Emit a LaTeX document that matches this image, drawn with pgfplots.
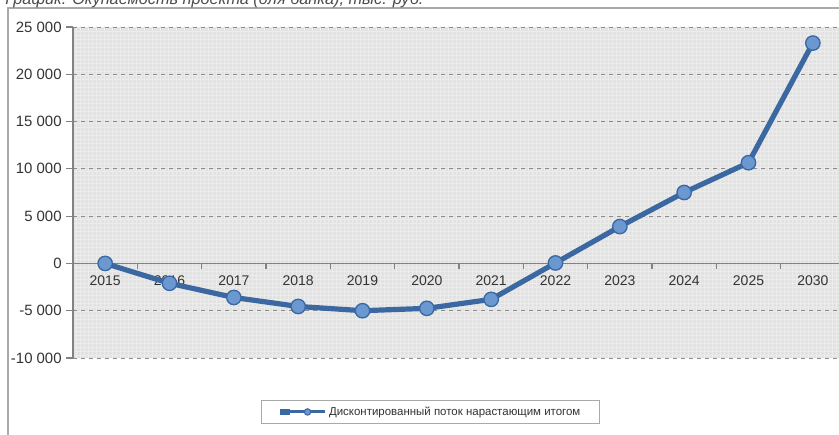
\documentclass[border=0pt]{standalone}
\usepackage{fontspec}
\setmainfont{Liberation Sans}
\usepackage{pgfplots}
\pgfplotsset{compat=1.18}
\usetikzlibrary{patterns}

\definecolor{bgfill}{RGB}{226,226,226}
\definecolor{bgline}{RGB}{236,236,236}
\definecolor{lineblue}{RGB}{60,104,162}
\definecolor{markblue}{RGB}{108,152,210}
\definecolor{framegray}{RGB}{170,170,170}
\definecolor{gridgray}{RGB}{140,140,140}
\definecolor{axisgray}{RGB}{130,130,130}

\begin{document}
\begin{tikzpicture}[x=0.75pt,y=0.75pt]
% chart frame (top and left edges are visible, the rest is cut off)
\draw[framegray, line width=1.1pt] (8,-10) -- (8,427) -- (850,427);
% title, partly cut at the top of the picture
\node[anchor=base west, inner sep=0pt, font=\itshape\fontsize{12.2}{13}\selectfont, text=black!70]
  at (5,430.5) {График. Окупаемость проекта (для банка), тыс. руб.};

\begin{axis}[
  at={(54.75pt,57.75pt)}, anchor=south west,
  scale only axis,
  width=579pt, height=248.25pt,
  xmin=-0.5, xmax=11.5,
  ymin=-10000, ymax=25000,
  axis y line=left,
  axis x line=middle,
  axis line style={-, axisgray, line width=0.8pt},
  axis background/.style={fill=bgfill, postaction={pattern=grid, pattern color=bgline}},
  xtick={0,...,11},
  xticklabels={2015,2016,2017,2018,2019,2020,2021,2022,2023,2024,2025,2030},
  major x tick style={draw=none},
  minor xtick={0.5,1.5,...,10.5},
  minor x tick style={axisgray, line width=0.8pt},
  minor tick length=4pt,
  xticklabel style={font=\fontsize{10.5}{12}\selectfont, text=black!80, yshift=-1pt},
  ytick={-10000,-5000,0,5000,10000,15000,20000,25000},
  ymajorgrids,
  grid style={dashed, gridgray, line width=0.6pt},
  major y tick style={axisgray, line width=0.8pt},
  tick align=outside,
  major tick length=5pt,
  scaled y ticks=false,
  yticklabel style={font=\fontsize{11.2}{12}\selectfont, text=black!80,
    /pgf/number format/.cd, 1000 sep={\ }, assume math mode=true},
  clip=false,
  legend style={at={(0.4624,-0.163)}, anchor=center, draw=framegray, line width=0.6pt,
    font=\fontsize{8.6}{10}\selectfont, text=black!80, inner xsep=12pt, inner ysep=3pt},
  legend image code/.code={
    \path (-8pt,0pt) -- (0pt,0pt);
    \draw[lineblue, line width=2.2pt] (0pt,0pt) -- (26pt,0pt);
    \draw[draw=lineblue, fill=markblue, line width=0.8pt] (13pt,0pt) circle (2.4pt);
  },
]
\addplot[lineblue, line width=3.9pt, mark=*, mark size=5.4pt,
  mark options={fill=markblue, draw=lineblue, line width=1pt}]
  coordinates {
  (0,0) (1,-2100) (2,-3600) (3,-4550) (4,-5000) (5,-4750)
  (6,-3800) (7,50) (8,3900) (9,7500) (10,10650) (11,23300)
};
\addlegendentry{Дисконтированный поток нарастающим итогом}
\end{axis}
\pgfresetboundingbox
\useasboundingbox (0,0) rectangle (839,435);
\end{tikzpicture}
\end{document}
